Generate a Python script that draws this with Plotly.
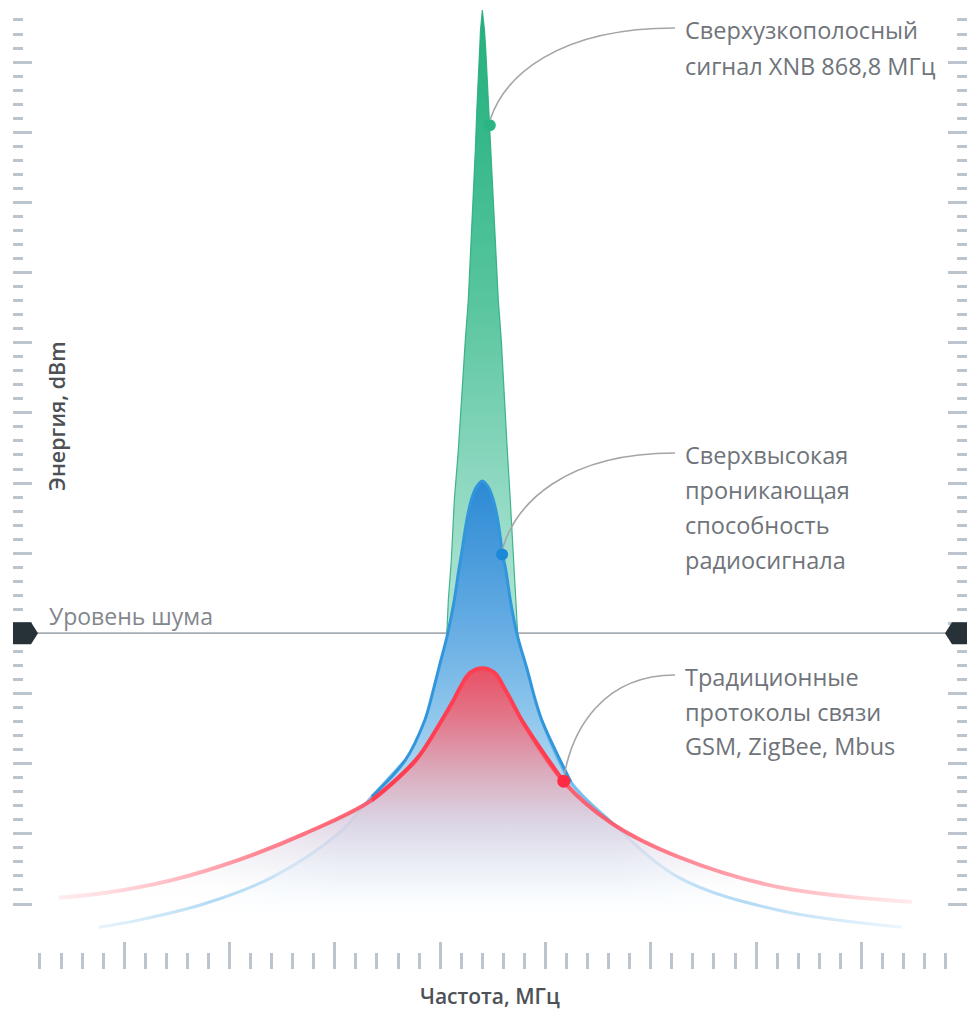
import plotly.graph_objects as go

# ---------------- data ----------------
CARRIER_MHZ = 868.8          # XNB carrier
NOISE_DBM = -101.4           # noise level

# XNB ultra-narrow-band signal (green): offsets from carrier in kHz, energy in dBm
xnb_peak_dbm = -12.6
xnb_left_khz = [-170.9, -161.4, -147.2, -132.9, -113.9, -99.7, -80.7, -66.5,
                -52.2, -42.7, -33.2, -26.1, -19.0, -14.2, -8.5]
xnb_left_dbm = [-103.1, -96.7, -91.0, -82.4, -75.3, -68.2, -59.6, -53.9,
                -45.4, -39.7, -32.5, -26.8, -21.1, -18.3, -15.4]
xnb_right_khz = [10.4, 16.6, 21.4, 30.9, 40.4, 52.2, 61.7, 76.0, 90.2,
                 104.5, 118.7, 132.9, 147.2, 156.7, 170.9]
xnb_right_dbm = [-15.4, -18.3, -21.1, -26.8, -32.5, -39.7, -45.4, -53.9, -59.6,
                 -68.2, -75.3, -82.4, -91.0, -96.7, -103.1]

# Penetrating radio signal (blue), listed from the peak outwards
blue_peak_dbm = -79.7
blue_left_khz = [-28.5, -52.2, -73.6, -99.7, -111.6, -135.3, -166.2, -206.5, -244.5,
                 -273.0, -365.6, -524.6, -681.3, -999.4, -1312.7, -1630.8, -1820.7]
blue_left_dbm = [-80.6, -82.4, -85.3, -90.3, -92.4, -97.1, -101.7, -106.4, -110.9,
                 -113.8, -119.5, -124.7, -129.9, -136.2, -139.9, -142.3, -143.3]
blue_right_khz = [28.5, 52.2, 73.6, 97.3, 111.6, 135.3, 166.2, 211.3, 251.6,
                  282.5, 420.2, 600.6, 932.9, 1407.7, 1991.7]
blue_right_dbm = [-80.6, -82.4, -85.3, -90.3, -92.4, -97.1, -101.7, -106.4, -110.9,
                  -113.8, -122.6, -128.0, -136.2, -140.9, -143.3]

# Traditional protocols GSM/ZigBee/Mbus (red), listed from the peak outwards
red_peak_dbm = -106.4
red_left_khz = [-59.3, -104.4, -135.3, -192.3, -315.7, -524.6, -838.0,
                -1156.1, -1474.2, -1787.5, -2010.7]
red_left_dbm = [-107.1, -109.1, -110.9, -113.8, -119.5, -125.2, -129.9,
                -133.7, -136.6, -138.4, -139.1]
red_right_khz = [59.3, 102.1, 135.3, 187.5, 386.9, 614.8, 932.9, 1407.7, 2039.1]
red_right_dbm = [-107.1, -109.1, -110.9, -113.8, -122.6, -128.5, -133.3,
                 -137.6, -139.7]

# callout points on the curves (offset kHz, dBm)
callout_khz = [35.6, 94.0, 386.9]
callout_dbm = [-29.0, -90.2, -122.5]
callout_texts = [
    ["Сверхузкополосный", "сигнал XNB 868,8 МГц"],
    ["Сверхвысокая", "проникающая", "способность", "радиосигнала"],
    ["Традиционные", "протоколы связи", "GSM, ZigBee, Mbus"],
]
noise_label = "Уровень шума"
y_title = "Энергия, dBm"
x_title = "Частота, МГц"

# ---------------- geometry / style ----------------
W_PX, H_PX = 967, 1011
M_L, M_R, M_T, M_B = 13, 0, 0, 42
PLOT_W = W_PX - M_L - M_R
PLOT_H = H_PX - M_T - M_B
X_RANGE = [866.57192, 871.10119]
Y_RANGE = [-149.265, -11.152]

TXT = "#6f747a"
FONT = "Open Sans"
TICK_C = "#bcc4cd"


def mhz(khz):
    return [CARRIER_MHZ + k / 1000.0 for k in khz]


def px_to_x(px):
    return X_RANGE[0] + (px - M_L) / PLOT_W * (X_RANGE[1] - X_RANGE[0])


def py_to_y(py):
    return Y_RANGE[1] - (py - M_T) / PLOT_H * (Y_RANGE[1] - Y_RANGE[0])


def x_to_px(x):
    return M_L + (x - X_RANGE[0]) / (X_RANGE[1] - X_RANGE[0]) * PLOT_W


def y_to_py(y):
    return M_T + (Y_RANGE[1] - y) / (Y_RANGE[1] - Y_RANGE[0]) * PLOT_H


def paper_x(px):
    return (px - M_L) / PLOT_W


def paper_y(py):
    return 1 - (py - M_T) / PLOT_H


def grad(stops, kind="vertical"):
    lo, hi = stops[0][0], stops[-1][0]
    return dict(type=kind, start=lo, stop=hi,
                colorscale=[[(d - lo) / (hi - lo), c] for d, c in stops])


def full(lk, ld, pk, rk, rd):
    return mhz(lk[::-1] + [0.0] + rk), ld[::-1] + [pk] + rd


fig = go.Figure()


def add_line(xs, ys, color, width):
    fig.add_trace(go.Scatter(x=xs, y=ys, mode="lines", hoverinfo="skip",
                             line=dict(color=color, width=width, shape="spline")))


def add_curve_lines(lk, ld, pk, rk, rd, ls, rs, core_col, tail_col, width):
    """Strong core between the joints ls/rs, lighter tails beyond them."""
    for side_k, side_d, s in [(lk, ld, ls), (rk, rd, rs)]:
        pk_list = [0.0] + side_k
        pd_list = [pk] + side_d
        si = s + 1
        add_line(mhz(pk_list[si - 1:]), pd_list[si - 1:], tail_col, width)
    core_k = lk[:ls + 1][::-1] + [0.0] + rk[:rs + 1]
    core_d = ld[:ls + 1][::-1] + [pk] + rd[:rs + 1]
    add_line(mhz(core_k), core_d, core_col, width)


# ---- green XNB spike ----
gx = mhz(xnb_left_khz + [0.0] + xnb_right_khz)
gy = xnb_left_dbm + [xnb_peak_dbm] + xnb_right_dbm
fig.add_trace(go.Scatter(
    x=gx, y=gy, mode="lines", fill="toself", line=dict(width=0),
    fillgradient=grad([(-103.1, "rgba(178,229,213,0.95)"), (-80, "rgb(142,216,193)"),
                       (-55, "rgb(90,198,159)"), (-30, "rgb(52,184,137)"),
                       (-12.6, "rgb(38,176,126)")]),
    hoverinfo="skip"))
fig.add_trace(go.Scatter(x=gx, y=gy, mode="lines",
                         line=dict(color="rgba(40,170,125,0.85)", width=1.2),
                         hoverinfo="skip"))

# ---- noise level line ----
fig.add_trace(go.Scatter(x=[px_to_x(37), px_to_x(946)], y=[NOISE_DBM, NOISE_DBM],
                         mode="lines", line=dict(color="#a5acb1", width=1.8),
                         hoverinfo="skip"))

# ---- blue ----
bx, by = full(blue_left_khz, blue_left_dbm, blue_peak_dbm, blue_right_khz, blue_right_dbm)
fig.add_trace(go.Scatter(
    x=bx, y=by, mode="lines", fill="toself", line=dict(width=0, shape="spline"),
    fillgradient=grad([(-143.3, "rgba(255,255,255,0)"), (-136, "rgba(218,235,248,0.5)"),
                       (-126, "rgba(178,216,241,0.85)"), (-113, "rgb(142,198,236)"),
                       (-100, "rgb(100,172,227)"), (-79.7, "rgb(44,137,212)")]),
    hoverinfo="skip"))
add_curve_lines(blue_left_khz, blue_left_dbm, blue_peak_dbm, blue_right_khz, blue_right_dbm,
                11, 10, "rgb(50,150,220)", "rgba(92,178,233,0.8)", 3)

# ---- red ----
rx, ry = full(red_left_khz, red_left_dbm, red_peak_dbm, red_right_khz, red_right_dbm)
fig.add_trace(go.Scatter(
    x=rx, y=ry, mode="lines", fill="toself", line=dict(width=0, shape="spline"),
    fillgradient=grad([(-140, "rgba(255,255,255,0)"), (-135, "rgba(238,238,245,0.7)"),
                       (-128, "rgba(221,209,225,0.9)"), (-121, "rgb(219,170,187)"),
                       (-114, "rgb(226,122,142)"), (-106.4, "rgb(234,80,100)")]),
    hoverinfo="skip"))
add_curve_lines(red_left_khz, red_left_dbm, red_peak_dbm, red_right_khz, red_right_dbm,
                5, 4, "rgb(255,62,82)", "rgba(255,84,102,0.9)", 4)

# ---- soft white fade over the far tails (left and right) ----
fade_lo, fade_hi = py_to_y(969), py_to_y(778)
for xa, xb, stops in [
    (13, 345, [(13, "rgba(255,255,255,0.95)"), (100, "rgba(255,255,255,0.8)"),
               (180, "rgba(255,255,255,0.55)"), (260, "rgba(255,255,255,0.22)"),
               (345, "rgba(255,255,255,0)")]),
    (615, 967, [(615, "rgba(255,255,255,0)"), (700, "rgba(255,255,255,0.28)"),
                (800, "rgba(255,255,255,0.58)"), (900, "rgba(255,255,255,0.85)"),
                (967, "rgba(255,255,255,0.95)")]),
]:
    fig.add_trace(go.Scatter(
        x=[px_to_x(xa), px_to_x(xb), px_to_x(xb), px_to_x(xa)],
        y=[fade_lo, fade_lo, fade_hi, fade_hi], mode="lines", fill="toself",
        line=dict(width=0),
        fillgradient=grad([(px_to_x(p), c) for p, c in stops], kind="horizontal"),
        hoverinfo="skip"))

# ---- callout dots ----
fig.add_trace(go.Scatter(x=mhz(callout_khz), y=callout_dbm, mode="markers",
                         marker=dict(size=[12, 12, 13], opacity=1,
                                     color=["#2bb585", "#1b88d8", "#ff2a44"],
                                     line=dict(width=0)),
                         hoverinfo="skip"))

# invisible trace for right axis
fig.add_trace(go.Scatter(x=[X_RANGE[0]], y=[Y_RANGE[0]], yaxis="y2", mode="markers",
                         marker=dict(opacity=0), hoverinfo="skip"))

shapes = []
annotations = []
label_left_px = 683
label_line_py = [[30, 66], [455, 490, 525, 560], [677, 712, 746]]
for i in range(3):
    x0 = x_to_px(mhz([callout_khz[i]])[0])
    y0 = y_to_py(callout_dbm[i])
    x1, y1 = 675, label_line_py[i][0] - 2
    dx, dy = x1 - x0, y0 - y1
    ys = y0 - 6
    pts = [(x0 + 0.5, ys), (x0 + 0.08 * dx, y0 - 0.5 * dy), (x0 + 0.36 * dx, y1), (x1, y1)]
    d = "M {},{} C {},{} {},{} {},{}".format(*[v for p in pts for v in (px_to_x(p[0]), py_to_y(p[1]))])
    shapes.append(dict(type="path", path=d, xref="x", yref="y",
                       line=dict(color="#a3a6a9", width=1.6), layer="above"))
    for t, py in zip(callout_texts[i], label_line_py[i]):
        annotations.append(dict(text=t, x=paper_x(label_left_px), y=paper_y(py),
                                xref="paper", yref="paper", xanchor="left", yanchor="middle",
                                showarrow=False, font=dict(family=FONT, size=23.5, color=TXT)))


# noise markers
def pth(points):
    return "M " + " L ".join("{},{}".format(paper_x(a), paper_y(b)) for a, b in points) + " Z"


npy = y_to_py(NOISE_DBM)
shapes.append(dict(type="path", xref="paper", yref="paper", fillcolor="#263238",
                   line=dict(width=0),
                   path=pth([(13, npy - 11), (31, npy - 11), (38, npy), (31, npy + 11), (13, npy + 11)])))
shapes.append(dict(type="path", xref="paper", yref="paper", fillcolor="#263238",
                   line=dict(width=0),
                   path=pth([(945, npy), (952, npy - 11), (967, npy - 11), (967, npy + 11), (952, npy + 11)])))

annotations.append(dict(text=noise_label, x=paper_x(47), y=paper_y(npy - 17), xref="paper", yref="paper",
                        xanchor="left", yanchor="middle", showarrow=False,
                        font=dict(family=FONT, size=23, color="#83878c")))
annotations.append(dict(text=y_title, x=paper_x(57), y=paper_y(416), xref="paper", yref="paper",
                        xanchor="center", yanchor="middle", textangle=-90, showarrow=False,
                        font=dict(family=FONT, size=21.5, color="#4d5156", weight=600)))
annotations.append(dict(text=x_title, x=paper_x(490), y=paper_y(996), xref="paper", yref="paper",
                        xanchor="center", yanchor="middle", showarrow=False,
                        font=dict(family=FONT, size=21, color="#4d5156", weight=600)))

# ticks
x_ticks = [round(866.7 + 0.1 * k, 1) for k in range(44)]
x_major = [v for k, v in enumerate(x_ticks) if k % 5 == 4]
x_minor = [v for k, v in enumerate(x_ticks) if k % 5 != 4]
y_ticks = list(range(-140, -13, 2))
y_major = [v for v in y_ticks if v % 10 == 0]
y_minor = [v for v in y_ticks if v % 10 != 0]

yax = dict(range=Y_RANGE, showgrid=False, zeroline=False, showline=False, showticklabels=False,
           ticks="inside", tickmode="array", tickvals=y_major, ticklen=19, tickwidth=3,
           tickcolor=TICK_C,
           minor=dict(tickmode="array", tickvals=y_minor, ticks="inside", ticklen=10,
                      tickwidth=3, tickcolor=TICK_C, showgrid=False))
yax2 = dict(yax)
yax2.update(overlaying="y", side="right")

fig.update_layout(
    width=W_PX, height=H_PX, autosize=False,
    margin=dict(l=M_L, r=M_R, t=M_T, b=M_B, pad=0),
    paper_bgcolor="white", plot_bgcolor="white",
    showlegend=False, hovermode=False,
    xaxis=dict(range=X_RANGE, showgrid=False, zeroline=False, showline=False,
               showticklabels=False, ticks="inside", tickmode="array", tickvals=x_major,
               ticklen=27, tickwidth=3, tickcolor=TICK_C,
               minor=dict(tickmode="array", tickvals=x_minor, ticks="inside", ticklen=16,
                          tickwidth=3, tickcolor=TICK_C, showgrid=False)),
    yaxis=yax, yaxis2=yax2,
    shapes=shapes, annotations=annotations,
)

fig.write_html("out.html", config={"displayModeBar": False, "staticPlot": True},
               post_script="document.body.style.margin='0';")
